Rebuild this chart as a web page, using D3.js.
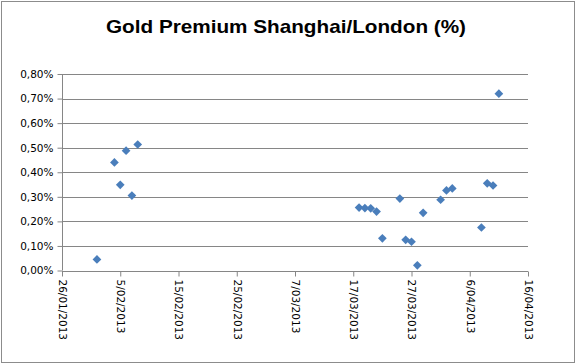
<!DOCTYPE html>
<html>
<head>
<meta charset="utf-8">
<script src="https://cdn.jsdelivr.net/npm/d3@7"></script>
<style>
  body { margin: 0; background: #fff; }
  svg { display: block; }
</style>
</head>
<body>
<div id="chart"></div>
<script>
// data
var dates = ["2013-02-01", "2013-02-04", "2013-02-05", "2013-02-06", "2013-02-07", "2013-02-08",
  "2013-03-18", "2013-03-19", "2013-03-20", "2013-03-21", "2013-03-22", "2013-03-25",
  "2013-03-26", "2013-03-27", "2013-03-28", "2013-03-29", "2013-04-01", "2013-04-02",
  "2013-04-03", "2013-04-08", "2013-04-09", "2013-04-10", "2013-04-11"];
var premium = [0.045, 0.440, 0.349, 0.488, 0.305, 0.513,
  0.256, 0.254, 0.253, 0.240, 0.131, 0.293,
  0.125, 0.117, 0.021, 0.235, 0.288, 0.326,
  0.334, 0.175, 0.355, 0.346, 0.720];
var xTicks = ["2013-01-26", "2013-02-05", "2013-02-15", "2013-02-25", "2013-03-07",
  "2013-03-17", "2013-03-27", "2013-04-06", "2013-04-16"];
var yTicks = [0, 0.1, 0.2, 0.3, 0.4, 0.5, 0.6, 0.7, 0.8];
var title = "Gold Premium Shanghai/London (%)";

var W = 576, H = 364;
var parse = d3.utcParse("%Y-%m-%d");
var points = dates.map(function(d, i) { return { date: parse(d), value: premium[i] }; });

var svg = d3.select("#chart").append("svg")
  .attr("width", W)
  .attr("height", H);

// outer chart border
svg.append("rect")
  .attr("x", 1.5).attr("y", 1.5)
  .attr("width", W - 3).attr("height", H - 3)
  .attr("fill", "#fff")
  .attr("stroke", "#8c8c8c");

svg.append("text")
  .attr("x", 286)
  .attr("y", 33)
  .attr("text-anchor", "middle")
  .attr("textLength", 360)
  .attr("lengthAdjust", "spacingAndGlyphs")
  .style("font-family", "'Liberation Sans', Arial, sans-serif")
  .style("font-weight", "bold")
  .style("font-size", "19px")
  .text(title);

var x = d3.scaleUtc()
  .domain([parse(xTicks[0]), parse(xTicks[xTicks.length - 1])])
  .range([62, 528]);

var y = d3.scaleLinear()
  .domain([0, 0.8])
  .range([270.5, 74]);

var loc = d3.formatLocale({ decimal: ",", thousands: ".", grouping: [3], currency: ["", ""] });
var pct = function(v) { return loc.format(".2f")(v) + "%"; };
var dfmt = function(d) { return d.getUTCDate() + "/" + d3.utcFormat("%m/%Y")(d); };

// gridlines
svg.append("g")
  .selectAll("line")
  .data(yTicks.slice(1))
  .enter().append("line")
  .attr("x1", 62).attr("x2", 528)
  .attr("y1", function(d) { return Math.round(y(d)) + 0.5; })
  .attr("y2", function(d) { return Math.round(y(d)) + 0.5; })
  .attr("stroke", "#868686");

// y axis
var yAxis = svg.append("g")
  .attr("transform", "translate(62.5,0)")
  .call(d3.axisLeft(y).tickValues(yTicks).tickFormat(pct).tickSize(5).tickPadding(4));
yAxis.selectAll("line, path").attr("stroke", "#868686");
yAxis.select(".domain").attr("d", "M0," + y(0.8) + "V" + y(0));
yAxis.selectAll("text")
  .style("font-family", "'DejaVu Sans', Tahoma, sans-serif")
  .style("font-size", "10.5px")
  .attr("fill", "#000");

// x axis
var xAxis = svg.append("g")
  .attr("transform", "translate(0," + (Math.round(y(0)) + 0.5) + ")")
  .call(d3.axisBottom(x).tickValues(xTicks.map(parse)).tickFormat(dfmt).tickSize(5));
xAxis.selectAll("line, path").attr("stroke", "#868686");
xAxis.select(".domain").attr("d", "M62,0H528");
xAxis.selectAll("text")
  .style("font-family", "'DejaVu Sans', Tahoma, sans-serif")
  .style("font-size", "10.5px")
  .attr("fill", "#000")
  .attr("text-anchor", "start")
  .attr("transform", "rotate(90)")
  .attr("x", 8)
  .attr("y", 0)
  .attr("dy", "0.35em");

// markers
svg.append("g")
  .selectAll("path")
  .data(points)
  .enter().append("path")
  .attr("d", d3.symbol().type(d3.symbolSquare).size(38))
  .attr("transform", function(d) { return "translate(" + x(d.date) + "," + y(d.value) + ") rotate(45)"; })
  .attr("fill", "#4a7ebb");
</script>
</body>
</html>
